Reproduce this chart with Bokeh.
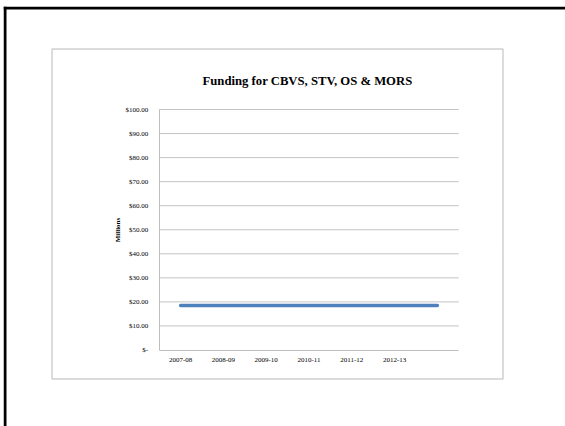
from bokeh.plotting import figure
from bokeh.models import BoxAnnotation, Label, FixedTicker, Range1d
from bokeh.embed import file_html
from bokeh.resources import INLINE

title_text = "Funding for CBVS, STV, OS & MORS"
y_axis_title = "Millions"
categories = ["2007-08", "2008-09", "2009-10", "2010-11", "2011-12", "2012-13", ""]
funding = [18.5, 18.5, 18.5, 18.5, 18.5, 18.5, 18.5]
y_ticks = [0, 10, 20, 30, 40, 50, 60, 70, 80, 90, 100]
y_tick_labels = ["$-", "$10.00", "$20.00", "$30.00", "$40.00", "$50.00",
                 "$60.00", "$70.00", "$80.00", "$90.00", "$100.00"]

xs = list(range(1, len(categories) + 1))
x_lo, x_hi = xs[0] - 0.5, xs[-1] + 0.5
y_lo, y_hi = y_ticks[0], y_ticks[-1]

W, H = 565, 426
FL, FT = 3, 6                      # frame left / top on the canvas
PL, PR, PT, PB = 158.7, 458.3, 109.0, 349.5   # plot-area pixel box
sx = (PR - PL) / (x_hi - x_lo)
sy = (PB - PT) / (y_hi - y_lo)
x_range = Range1d(x_lo - (PL - FL) / sx, x_hi + (W - PR) / sx)
y_range = Range1d(y_lo - (H - PB) / sy, y_hi + (PT - FT) / sy)

p = figure(width=W, height=H, output_backend="svg", toolbar_location=None,
           x_range=x_range, y_range=y_range,
           min_border_left=FL, min_border_right=0, min_border_top=FT,
           min_border_bottom=0)
p.background_fill_color = "white"
p.border_fill_color = "white"
p.outline_line_color = None

serif = "Liberation Serif"

# gridlines limited to the plot area
grid_vals = y_ticks[1:]
p.segment(x0=[x_lo] * len(grid_vals), x1=[x_hi] * len(grid_vals),
          y0=grid_vals, y1=grid_vals, line_color="#C4C4C4", line_width=1)

p.line(xs, funding, line_color="#4F81BD", line_width=3.5, line_cap="round")

# axes
p.xgrid.visible = False
p.ygrid.visible = False
p.xaxis.fixed_location = y_lo
p.xaxis.bounds = (x_lo, x_hi)
p.yaxis.fixed_location = x_lo
p.yaxis.bounds = (y_lo, y_hi)
p.xaxis.ticker = FixedTicker(ticks=[x for x, c in zip(xs, categories) if c])
p.xaxis.major_label_overrides = {x: c for x, c in zip(xs, categories) if c}
p.yaxis.ticker = FixedTicker(ticks=y_ticks)
p.yaxis.major_label_overrides = {t: l for t, l in zip(y_ticks, y_tick_labels)}
for ax in (p.xaxis[0], p.yaxis[0]):
    ax.major_tick_line_color = None
    ax.minor_tick_line_color = None
    ax.axis_line_color = "#BFBFBF"
    ax.major_label_text_font = serif
    ax.major_label_text_font_size = "7px"
    ax.major_label_text_color = "#000000"
p.xaxis.major_label_standoff = 2
p.yaxis.major_label_standoff = 5
p.yaxis.axis_label = y_axis_title
p.yaxis.axis_label_text_font = serif
p.yaxis.axis_label_text_font_size = "7px"
p.yaxis.axis_label_text_font_style = "bold"
p.yaxis.axis_label_text_color = "#000000"
p.yaxis.axis_label_standoff = 1

# title (screen units are relative to the frame, y measured upward from its bottom)
p.add_layout(Label(x=307 - FL, y=H - 80, x_units="screen", y_units="screen",
                   text=title_text, text_font=serif, text_font_size="12.7px",
                   text_font_style="bold", text_align="center",
                   text_baseline="middle", text_color="#000000"))

# chart border
p.add_layout(BoxAnnotation(left=51.5 - FL, right=502.5 - FL, top=H - 48.5, bottom=H - 378.5,
                           left_units="screen", right_units="screen",
                           top_units="screen", bottom_units="screen",
                           fill_alpha=0, line_color="#D0D0D0", line_alpha=1,
                           line_width=1.5))
# slide border: only its top and left edges are visible (filled strips)
FH, FW = H - FT, W - FL
p.add_layout(BoxAnnotation(left=0, right=3, top=FH, bottom=0,
                           left_units="screen", right_units="screen",
                           top_units="screen", bottom_units="screen",
                           fill_color="black", fill_alpha=1, line_alpha=0))
p.add_layout(BoxAnnotation(left=0, right=FW, top=FH, bottom=FH - 3,
                           left_units="screen", right_units="screen",
                           top_units="screen", bottom_units="screen",
                           fill_color="black", fill_alpha=1, line_alpha=0))

open("out.html", "w").write(file_html(p, INLINE))
